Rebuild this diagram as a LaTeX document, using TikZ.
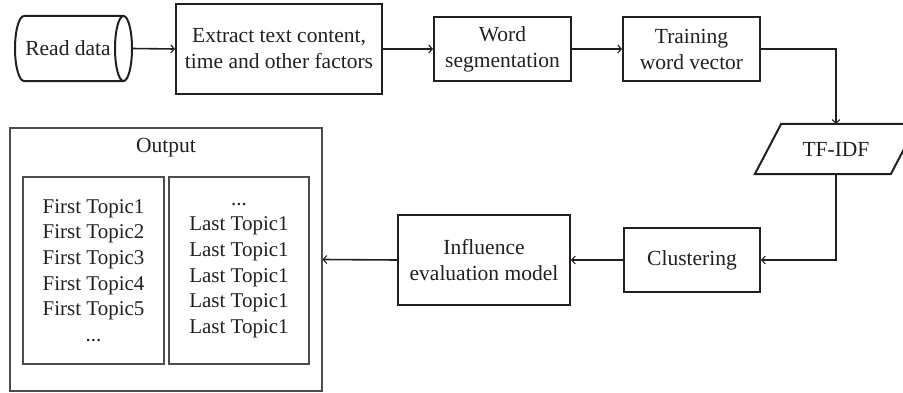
\documentclass[tikz,border=0pt]{standalone}
\usepackage{fontspec}
\setmainfont{Liberation Serif}
\usetikzlibrary{arrows.meta}
\definecolor{ink}{HTML}{231F20}
\tikzset{
    box/.style={draw=ink, line width=2pt, text=ink, align=center, inner sep=0pt,
        font=\fontsize{21.5}{26}\selectfont},
    plain/.style={text=ink, align=center, inner sep=0pt, font=\fontsize{21.5}{26}\selectfont},
    outbox/.style={draw=ink!80, line width=1.1pt, text=ink, align=center, inner sep=0pt,
        font=\fontsize{21}{25.6}\selectfont},
    conn/.style={draw=ink, line width=1.6pt, -{Straight Barb[length=3.5pt,width=8pt,line width=1.1pt]}}
}
\begin{document}
\begin{tikzpicture}[x=1pt,y=1pt]
    \useasboundingbox (0,0) rectangle (903,392);
    % top row
    \node[plain, minimum width=117pt, minimum height=65pt] (read) at (73.5,343.5) {Read data\hspace*{11pt}};
    \draw[draw=ink, line width=2pt] (24,376) -- (123.5,376)
        arc[start angle=90, end angle=-90, x radius=8.5, y radius=32.5] -- (24,311)
        arc[start angle=270, end angle=90, x radius=9, y radius=32.5];
    \draw[draw=ink, line width=2pt] (123.5,376) arc[start angle=90, end angle=270, x radius=8.5, y radius=32.5];
    \node[box, minimum width=206pt, minimum height=90pt] (extract) at (279,343) {Extract text content,\\time and other factors};
    \node[box, minimum width=137pt, minimum height=64pt] (wordseg) at (502.5,343) {Word\\segmentation};
    \node[box, minimum width=137pt, minimum height=64pt] (train) at (691.5,343) {Training\\word vector};
    % TF-IDF
    \node[plain, minimum width=162pt, minimum height=50pt] (tfidf) at (836,243) {TF-IDF};
    \draw[draw=ink, line width=2pt] (tfidf.south west) -- ++(136,0) -- (tfidf.north east) -- ++(-136,0) -- cycle;
    % bottom row
    \node[box, minimum width=136pt, minimum height=64pt] (clust) at (692,132) {Clustering};
    \node[box, minimum width=172pt, minimum height=90pt] (infl) at (484,132) {Influence\\evaluation model};
    % output
    \node[outbox, minimum width=312pt, minimum height=263pt] (output) at (166,132.5) {};
    \node[plain] (outtitle) at (166,244) {Output};
    \node[outbox, minimum width=141pt, minimum height=187pt] (firstlist) at (93.5,121.5)
        {First Topic1\\First Topic2\\First Topic3\\First Topic4\\First Topic5\\...};
    \node[outbox, minimum width=140pt, minimum height=187pt] (lastlist) at (239,121.5)
        {...\\Last Topic1\\Last Topic1\\Last Topic1\\Last Topic1\\Last Topic1};
    % connectors
    \draw[conn] (read.east) -- (extract.west);
    \draw[conn] (extract.east) -- (wordseg.west);
    \draw[conn] (wordseg.east) -- (train.west);
    \draw[conn] (train.east) -| (tfidf.north);
    \draw[conn] (tfidf.south) |- (clust.east);
    \draw[conn] (clust.west) -- (infl.east);
    \draw[conn] (infl.west) -- (output.east);
\end{tikzpicture}
\end{document}
